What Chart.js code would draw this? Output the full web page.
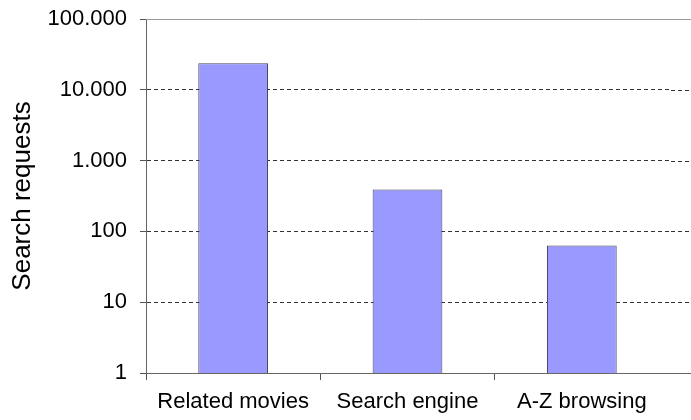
<!DOCTYPE html>
<html>
<head>
<meta charset="utf-8">
<script src="https://cdn.jsdelivr.net/npm/chart.js@4/dist/chart.umd.min.js"></script>
<style>
  html, body { margin: 0; padding: 0; background: #fff; overflow: hidden; }
  canvas { display: block; }
</style>
</head>
<body>
<canvas id="chart" width="691" height="420"></canvas>
<script>
// values
const categories = ['Related movies', 'Search engine', 'A-Z browsing'];
const searchRequests = [23700, 390, 63];
const yTicks = [1, 10, 100, 1000, 10000, 100000];
const yTickLabels = ['1', '10', '100', '1.000', '10.000', '100.000'];

const FONT = 'Arial, "Liberation Sans", sans-serif';

// the plot in the original runs past the right edge of the picture,
// so carry the horizontal lines on to the edge of the canvas
const extendGrid = {
    id: 'extendGrid',
    afterDraw(chart) {
        const ctx = chart.ctx;
        const area = chart.chartArea;
        const y = chart.scales.y;
        const last = y.ticks.length - 1;
        ctx.save();
        ctx.lineWidth = 1;
        y.ticks.forEach((t, i) => {
            const py = Math.round(y.getPixelForValue(t.value)) + 0.5;
            ctx.beginPath();
            if (i === 0) {
                // x axis line
                ctx.strokeStyle = '#666';
                ctx.setLineDash([]);
                ctx.moveTo(area.right, py);
            } else if (i === last) {
                // plot area top edge, plain grey
                ctx.strokeStyle = '#9a9a9a';
                ctx.setLineDash([]);
                ctx.moveTo(area.left, py);
            } else {
                ctx.strokeStyle = '#333';
                ctx.setLineDash([4, 3]);
                ctx.lineDashOffset = (area.right - area.left) % 7; // keep the dash rhythm going
                ctx.moveTo(area.right, py);
            }
            ctx.lineTo(chart.width, py);
            ctx.stroke();
        });
        ctx.restore();
    }
};

new Chart(document.getElementById('chart'), {
    type: 'bar',
    data: {
        labels: categories,
        datasets: [{
            label: 'Search requests',
            data: searchRequests,
            backgroundColor: '#9999ff',
            borderColor: '#444455',
            borderWidth: 1,
            barPercentage: 0.4,
            categoryPercentage: 1
        }]
    },
    options: {
        responsive: false,
        animation: false,
        layout: { padding: { top: 0, right: 22, left: 0, bottom: 0 } },
        plugins: {
            legend: { display: false },
            tooltip: { enabled: false }
        },
        scales: {
            x: {
                afterFit: s => { s.height = 47; },
                grid: {
                    offset: true,
                    drawOnChartArea: false,
                    tickLength: 7,
                    // no mark at the far right end
                    tickColor: c => c.type === 'tick' ? '#555' : 'rgba(0,0,0,0)'
                },
                border: { color: '#666', width: 1 },
                ticks: {
                    color: '#000',
                    padding: 9,
                    font: { family: FONT, size: 22 }
                }
            },
            y: {
                type: 'logarithmic',
                min: 1,
                max: 100000,
                afterFit: s => {
                    s.width = 146;
                    s.paddingTop = 19;
                    s.paddingBottom = 0;
                },
                afterBuildTicks: s => { s.ticks = yTicks.map(v => ({ value: v })); },
                grid: {
                    color: c => c.tick && c.tick.value === 100000 ? 'rgba(0,0,0,0)' : '#333',
                    tickLength: 6,
                    tickColor: '#555'
                },
                border: { color: '#666', width: 1, dash: [4, 3] },
                ticks: {
                    color: '#000',
                    padding: 13,
                    font: { family: FONT, size: 22 },
                    callback: v => yTickLabels[yTicks.indexOf(v)]
                },
                title: {
                    display: true,
                    text: 'Search requests',
                    color: '#000',
                    padding: { top: 7, bottom: 0 },
                    font: { family: FONT, size: 26 }
                }
            }
        }
    },
    plugins: [extendGrid]
});
</script>
</body>
</html>
